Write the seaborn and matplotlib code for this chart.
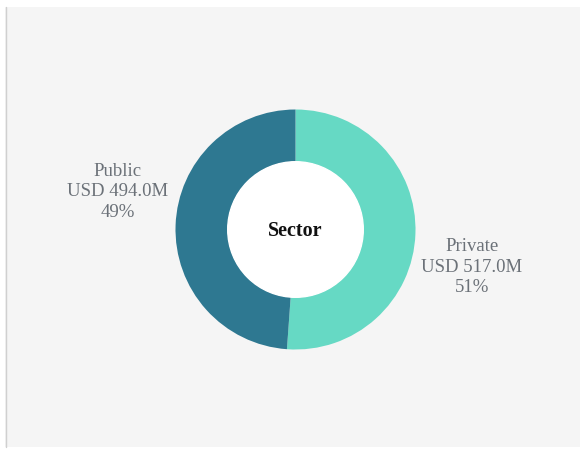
import matplotlib
matplotlib.use("Agg")
import matplotlib.pyplot as plt
import seaborn as sns
from matplotlib.patches import Rectangle

sectors = ["Private", "Public"]
amounts_musd = [517.0, 494.0]
shares_pct = [51, 49]
center_title = "Sector"

sns.set_theme(style="white")
plt.rcParams["font.family"] = ["Liberation Serif", "DejaVu Serif"]

colors = ["#66d9c4", "#2e7891"]

fig = plt.figure(figsize=(5.8, 4.5), dpi=100, facecolor="white")
ax = fig.add_axes([0, 0, 1, 1])

# panel background
ax.add_patch(Rectangle((5, 3), 575, 440, facecolor="#f5f5f5", edgecolor="none", zorder=0))
ax.plot([5.5, 5.5], [3, 443], color="#d0d0d0", lw=1, zorder=1)

cx, cy = 295.5, 450 - 229.5
R = 120
ax.pie(amounts_musd, colors=colors, startangle=90, counterclock=False,
       center=(cx, cy), radius=R,
       wedgeprops=dict(width=R * 0.435, edgecolor="none", linewidth=0))
ax.add_patch(plt.Circle((cx, cy), R * 0.565, color="white", zorder=3))
ax.text(cx, cy - 2, center_title, ha="center", va="center", fontsize=14.5,
        fontweight="bold", color="#111111", zorder=4)

label_pos = {"Private": (472, 450 - 267), "Public": (118, 450 - 192)}
for name, amt, pct in zip(sectors, amounts_musd, shares_pct):
    x, y = label_pos[name]
    ax.text(x, y, f"{name}\nUSD {amt:.1f}M\n{pct}%", ha="center", va="center",
            fontsize=13.5, color="#6b7178", linespacing=1.25)

ax.set_xlim(0, 580)
ax.set_ylim(0, 450)
ax.set_aspect("auto")
ax.axis("off")

fig.savefig("out.png", dpi=100, facecolor="white")
